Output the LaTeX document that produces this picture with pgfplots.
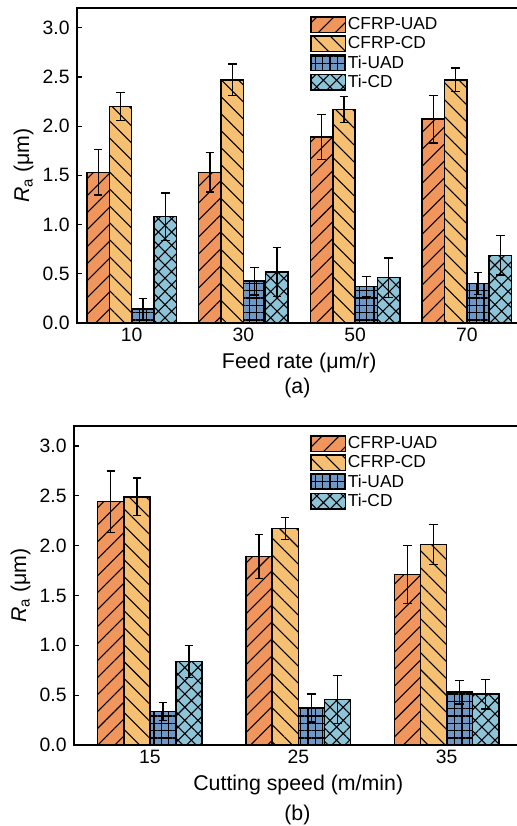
\documentclass[border=0pt]{standalone}
\usepackage{pgfplots}
\pgfplotsset{compat=1.18}
\usepackage{fontspec}
\setmainfont{Liberation Sans}
\usetikzlibrary{patterns.meta}
\definecolor{cUAD}{HTML}{F0955B}
\definecolor{cCD}{HTML}{F5C071}
\definecolor{tUAD}{HTML}{6F97C6}
\definecolor{tCD}{HTML}{8EC4D8}
\newcommand{\lblfont}{\fontsize{14.5}{16}\selectfont}
\newcommand{\axlfont}{\fontsize{16}{18}\selectfont}
\newcommand{\legfont}{\fontsize{13}{14}\selectfont}
\pgfplotsset{
  myaxis/.style={
    scale only axis,
    ybar=0pt,
    ymin=0, ymax=3.2,
    ytick={0,0.5,...,3.0},
    /pgf/number format/assume math mode=true,
    yticklabel={\lblfont\pgfmathprintnumber[fixed,fixed zerofill,precision=1,assume math mode=true]{\tick}},
    yticklabel style={xshift=-2pt},
    ytick pos=left, xtick pos=bottom,
    tick align=inside,
    major tick length=4pt,
    x tick style={draw=none},
    axis line style={line width=1pt, black},
    y tick style={line width=0.9pt, black},
    tick label style={font=\lblfont},
    ylabel={\axlfont\textit{R}\textsubscript{a} (μm)},
    xlabel style={yshift=-1.5pt},
    xtick=data,
    bar width=0.2,
    every axis plot/.append style={draw=black, line width=1.1pt},
    error bars/y dir=both, error bars/y explicit,
    error bars/error bar style={black, line width=1pt},
    error bars/error mark options={black, line width=1pt, mark size=3.2pt, rotate=90},
    legend image code/.code={\draw[#1] (0pt,-5.8pt) rectangle (26pt,5.8pt);},
    legend cell align=left,
    legend style={draw=none, fill=none, inner sep=0pt, row sep=1.2pt,
      font=\legfont, anchor=north west,
      nodes={inner sep=1.2pt}},
  },
  pUAD/.style={fill=cUAD, postaction={pattern={Lines[angle=45,distance=9pt,line width=0.8pt]}}},
  pCD/.style={fill=cCD, postaction={pattern={Lines[angle=-45,distance=9pt,line width=0.8pt]}}},
  tpUAD/.style={fill=tUAD, postaction={pattern={Hatch[angle=0,distance=5.5pt,line width=0.8pt]}}},
  tpCD/.style={fill=tCD, postaction={pattern={Hatch[angle=45,distance=7pt,line width=0.8pt]}}},
}
\begin{document}
\begin{tikzpicture}
\useasboundingbox (0,0) rectangle (387.75pt,619.5pt);
\clip (0,0) rectangle (387.75pt,619.5pt);
% (a)
\begin{axis}[myaxis,
  at={(57.75pt,377.25pt)}, anchor=south west,
  width=333.4pt, height=236.25pt,
  xmin=-0.49, xmax=3.49,
  xticklabels={{\lblfont 10},{\lblfont 30},{\lblfont 50},{\lblfont 70}},
  xlabel={\axlfont Feed rate (μm/r)},
  legend style={at={(rel axis cs:0.524,0.975)}},
]
\addplot[pUAD, bar shift=-0.3] coordinates {(0,1.53)+-(0,0.23) (1,1.53)+-(0,0.20) (2,1.89)+-(0,0.23) (3,2.07)+-(0,0.24)};
\addplot[pCD, bar shift=-0.1] coordinates {(0,2.20)+-(0,0.14) (1,2.47)+-(0,0.16) (2,2.17)+-(0,0.13) (3,2.47)+-(0,0.12)};
\addplot[tpUAD, bar shift=0.1] coordinates {(0,0.14)+-(0,0.11) (1,0.425)+-(0,0.14) (2,0.37)+-(0,0.10) (3,0.40)+-(0,0.11)};
\addplot[tpCD, bar shift=0.3] coordinates {(0,1.08)+-(0,0.24) (1,0.52)+-(0,0.25) (2,0.46)+-(0,0.20) (3,0.686)+-(0,0.20)};
\legend{CFRP-UAD,CFRP-CD,Ti-UAD,Ti-CD}
\end{axis}
% (b)
\begin{axis}[myaxis,
  at={(55.5pt,60.75pt)}, anchor=south west,
  width=336.4pt, height=239.25pt,
  xmin=-0.512, xmax=2.512,
  bar width=0.176,
  xticklabels={{\lblfont 15},{\lblfont 25},{\lblfont 35}},
  xlabel={\axlfont Cutting speed (m/min)},
  legend style={at={(rel axis cs:0.526,0.972)}},
]
\addplot[pUAD, bar shift=-0.264] coordinates {(0,2.44)+-(0,0.31) (1,1.89)+-(0,0.22) (2,1.71)+-(0,0.29)};
\addplot[pCD, bar shift=-0.088] coordinates {(0,2.49)+-(0,0.19) (1,2.17)+-(0,0.11) (2,2.01)+-(0,0.20)};
\addplot[tpUAD, bar shift=0.088] coordinates {(0,0.334)+-(0,0.09) (1,0.37)+-(0,0.14) (2,0.53)+-(0,0.12)};
\addplot[tpCD, bar shift=0.264] coordinates {(0,0.84)+-(0,0.16) (1,0.455)+-(0,0.24) (2,0.51)+-(0,0.15)};
\legend{CFRP-UAD,CFRP-CD,Ti-UAD,Ti-CD}
\end{axis}
\node[font=\axlfont] at (223pt,328.5pt) {(a)};
\node[font=\axlfont] at (223pt,8.5pt) {(b)};
\end{tikzpicture}
\end{document}
